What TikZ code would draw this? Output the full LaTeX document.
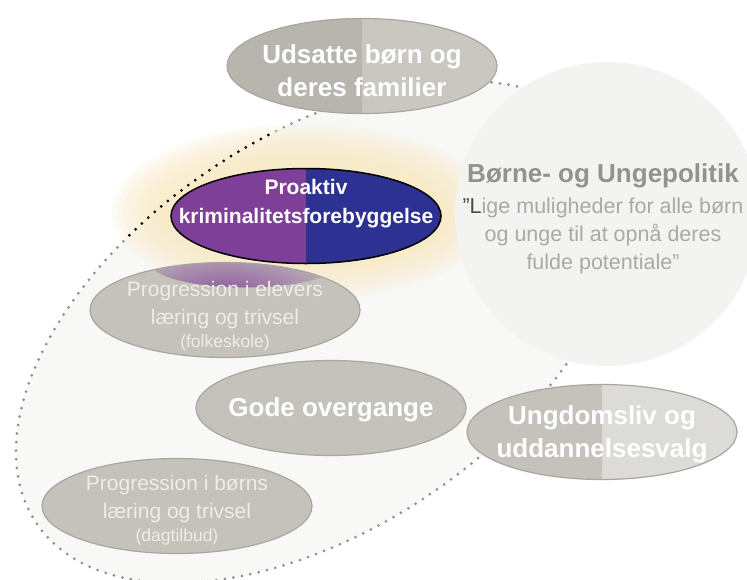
\documentclass[tikz,border=0pt]{standalone}
\usepackage{fontspec}
\setmainfont{Liberation Sans}
\usetikzlibrary{shapes.geometric}
\newcommand{\smallnote}{\fontsize{17.5}{20}\selectfont}

\definecolor{fieldgrey}{HTML}{F8F8F7}
\definecolor{dotgrey}{HTML}{8E8E8C}
\definecolor{glowcream}{HTML}{FBEBC4}
\definecolor{policygrey}{HTML}{F3F3F2}
\definecolor{topicgrey}{HTML}{C4C2BB}
\definecolor{rimgrey}{HTML}{A8A69F}
\definecolor{darkhalf}{HTML}{B7B5AD}
\definecolor{lighthalf}{HTML}{C9C7C0}
\definecolor{palehalf}{HTML}{DCDBD7}
\definecolor{projpurple}{HTML}{7E3F98}
\definecolor{projnavy}{HTML}{2D3192}
\definecolor{titlegrey}{HTML}{94928A}
\definecolor{quotegrey}{HTML}{ABA9A2}
\definecolor{inkgrey}{HTML}{4A4A48}
\definecolor{paletext}{HTML}{EEEDEA}

\tikzset{
  topic/.style={ellipse, draw=rimgrey, line width=1.2pt, fill=topicgrey,
    minimum width=270, minimum height=95, inner sep=0pt},
  twotone/.style={path picture={\fill[#1] (path picture bounding box.north)
    rectangle (path picture bounding box.south east);}},
  tint/.style={path picture={\shade[inner color=#1, outer color=topicgrey]
    ([xshift=20pt]path picture bounding box.north) ellipse (95 and 25);}},
  boldtxt/.style={align=center, text=white, font=\bfseries\fontsize{26}{33}\selectfont},
  thintxt/.style={align=center, text=paletext, font=\fontsize{21}{28}\selectfont},
  dotring/.style={line width=3pt, line cap=round, dash pattern=on 0pt off 8.6pt},
}

\begin{document}
\begin{tikzpicture}[x=1pt,y=-1pt]
\useasboundingbox (0,0) rectangle (747,579);
\fill[white] (0,0) rectangle (747,579);
% dotted field
\fill[fieldgrey, rotate around={34:(320,332)}] (320,332) ellipse (342 and 196);
\draw[dotring, dotgrey, rotate around={34:(320,332)}] (320,332) ellipse (342 and 196);
% glow behind the project
\foreach \k in {0,...,11}
  \fill[glowcream, opacity=0.16] (304,212) ellipse ({192-5.5*\k} and {88-4*\k});
\begin{scope}
\clip (306,214) ellipse (185 and 82);
\draw[dotring, black, rotate around={34:(320,332)}] (320,332) ellipse (342 and 196);
\end{scope}
% policy circle
\fill[policygrey] (607,214) circle (152);
\node[align=center, text=quotegrey, font=\fontsize{21.5}{28}\selectfont] (policy) at (603,219)
  {{\bfseries\color{titlegrey}\fontsize{26}{28}\selectfont Børne- og Ungepolitik}\\[3pt]
   \textcolor{inkgrey}{”L}ige muligheder for alle børn\\
   og unge til at opnå deres\\ fulde potentiale”};
% topics
\node[topic, fill=darkhalf, twotone=lighthalf] (udsatte) at (362,66) {};
\node[boldtxt, yshift=-5] (udsatte-txt) at (udsatte) {Udsatte børn og\\deres familier};
\node[topic, fill=projpurple, draw=black, line width=1.5pt, twotone=projnavy] (proaktiv) at (306,216) {};
\node[boldtxt, yshift=12, font=\bfseries\fontsize{21}{29}\selectfont] (proaktiv-txt) at (proaktiv) {Proaktiv\\kriminalitetsforebyggelse};
\node[topic, tint=projpurple!85!topicgrey] (elever) at (225,310) {};
\node[thintxt, yshift=-6] (elever-txt) at (elever) {Progression i elevers\\læring og trivsel\\[-5pt]{\smallnote(folkeskole)}};
\node[topic] (overgange) at (331,408) {};
\node[boldtxt, yshift=-2] (overgange-txt) at (overgange) {Gode overgange};
\node[topic, twotone=palehalf] (ungdom) at (602,432) {};
\node[boldtxt, yshift=-2] (ungdom-txt) at (ungdom) {Ungdomsliv og\\uddannelsesvalg};
\node[topic] (dagtilbud) at (177,506) {};
\node[thintxt, yshift=-4] (dagtilbud-txt) at (dagtilbud) {Progression i børns\\læring og trivsel\\[-5pt]{\smallnote(dagtilbud)}};
\end{tikzpicture}
\end{document}
